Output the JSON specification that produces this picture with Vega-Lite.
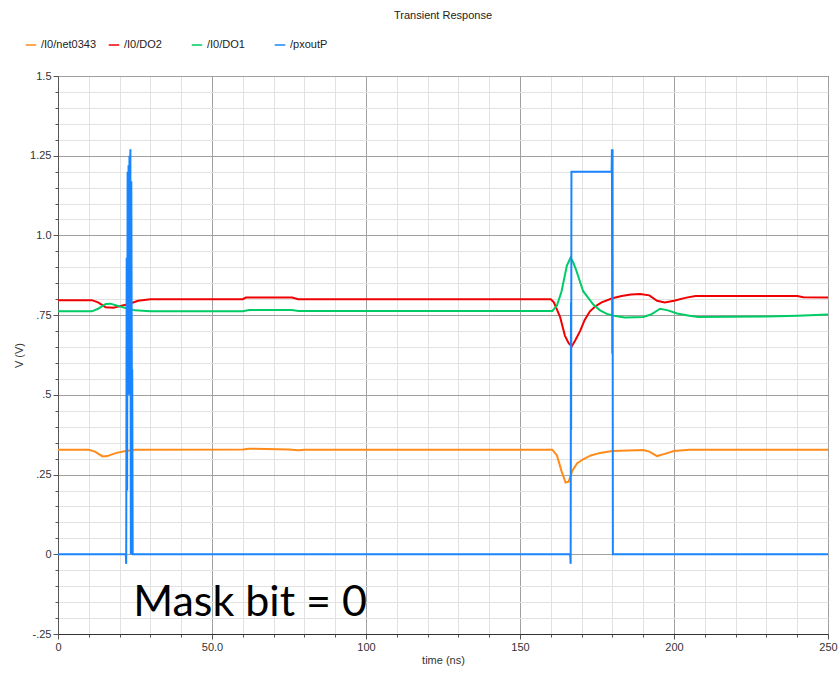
{
  "$schema": "https://vega.github.io/schema/vega-lite/v6.json",
  "width": 770,
  "height": 558,
  "autosize": "none",
  "padding": {"left": 58, "top": 76, "right": 10, "bottom": 39},
  "background": "white",
  "title": {"text": "Transient Response", "fontSize": 11, "fontWeight": "normal", "font": "Liberation Sans", "color": "#222", "anchor": "middle", "offset": 18},
  "config": {
    "view": {"stroke": "#222", "strokeWidth": 1},
    "axis": {"labelFont": "Liberation Sans", "titleFont": "Liberation Sans", "labelFontSize": 11, "titleFontSize": 11, "titleFontWeight": "normal", "labelColor": "#333", "titleColor": "#333", "domainColor": "#555", "tickColor": "#555", "labelOverlap": false}
  },
  "datasets": {
    "series": [
      {"s": "/I0/net0343", "t": 0, "v": 0.328}, {"s": "/I0/net0343", "t": 10, "v": 0.328}, {"s": "/I0/net0343", "t": 12, "v": 0.322}, {"s": "/I0/net0343", "t": 14.5, "v": 0.307}, {"s": "/I0/net0343", "t": 16, "v": 0.308}, {"s": "/I0/net0343", "t": 19, "v": 0.318}, {"s": "/I0/net0343", "t": 22, "v": 0.324}, {"s": "/I0/net0343", "t": 25, "v": 0.328}, {"s": "/I0/net0343", "t": 60, "v": 0.329}, {"s": "/I0/net0343", "t": 62, "v": 0.331}, {"s": "/I0/net0343", "t": 75, "v": 0.329}, {"s": "/I0/net0343", "t": 78, "v": 0.326}, {"s": "/I0/net0343", "t": 80, "v": 0.328}, {"s": "/I0/net0343", "t": 160.5, "v": 0.328}, {"s": "/I0/net0343", "t": 162, "v": 0.31}, {"s": "/I0/net0343", "t": 163.5, "v": 0.26}, {"s": "/I0/net0343", "t": 164.8, "v": 0.225}, {"s": "/I0/net0343", "t": 165.8, "v": 0.228}, {"s": "/I0/net0343", "t": 167, "v": 0.262}, {"s": "/I0/net0343", "t": 168.5, "v": 0.285}, {"s": "/I0/net0343", "t": 170.5, "v": 0.298}, {"s": "/I0/net0343", "t": 173, "v": 0.31}, {"s": "/I0/net0343", "t": 176, "v": 0.318}, {"s": "/I0/net0343", "t": 180, "v": 0.324}, {"s": "/I0/net0343", "t": 190, "v": 0.327}, {"s": "/I0/net0343", "t": 192, "v": 0.322}, {"s": "/I0/net0343", "t": 194.5, "v": 0.308}, {"s": "/I0/net0343", "t": 197, "v": 0.315}, {"s": "/I0/net0343", "t": 200, "v": 0.324}, {"s": "/I0/net0343", "t": 205, "v": 0.328}, {"s": "/I0/net0343", "t": 250, "v": 0.328},
      {"s": "/I0/DO2", "t": 0, "v": 0.797}, {"s": "/I0/DO2", "t": 11, "v": 0.797}, {"s": "/I0/DO2", "t": 13, "v": 0.79}, {"s": "/I0/DO2", "t": 15.5, "v": 0.775}, {"s": "/I0/DO2", "t": 18, "v": 0.773}, {"s": "/I0/DO2", "t": 20, "v": 0.778}, {"s": "/I0/DO2", "t": 23, "v": 0.785}, {"s": "/I0/DO2", "t": 26, "v": 0.795}, {"s": "/I0/DO2", "t": 30, "v": 0.8}, {"s": "/I0/DO2", "t": 60, "v": 0.8}, {"s": "/I0/DO2", "t": 61, "v": 0.805}, {"s": "/I0/DO2", "t": 76, "v": 0.805}, {"s": "/I0/DO2", "t": 78, "v": 0.8}, {"s": "/I0/DO2", "t": 160, "v": 0.8}, {"s": "/I0/DO2", "t": 161, "v": 0.79}, {"s": "/I0/DO2", "t": 163, "v": 0.745}, {"s": "/I0/DO2", "t": 164.6, "v": 0.685}, {"s": "/I0/DO2", "t": 165.8, "v": 0.662}, {"s": "/I0/DO2", "t": 166.8, "v": 0.652}, {"s": "/I0/DO2", "t": 168, "v": 0.672}, {"s": "/I0/DO2", "t": 169.5, "v": 0.7}, {"s": "/I0/DO2", "t": 171, "v": 0.735}, {"s": "/I0/DO2", "t": 172.7, "v": 0.762}, {"s": "/I0/DO2", "t": 174.5, "v": 0.778}, {"s": "/I0/DO2", "t": 176.5, "v": 0.79}, {"s": "/I0/DO2", "t": 180, "v": 0.803}, {"s": "/I0/DO2", "t": 183, "v": 0.81}, {"s": "/I0/DO2", "t": 186, "v": 0.815}, {"s": "/I0/DO2", "t": 189, "v": 0.816}, {"s": "/I0/DO2", "t": 192, "v": 0.812}, {"s": "/I0/DO2", "t": 194.5, "v": 0.795}, {"s": "/I0/DO2", "t": 197, "v": 0.79}, {"s": "/I0/DO2", "t": 200, "v": 0.795}, {"s": "/I0/DO2", "t": 204, "v": 0.805}, {"s": "/I0/DO2", "t": 207, "v": 0.81}, {"s": "/I0/DO2", "t": 240, "v": 0.81}, {"s": "/I0/DO2", "t": 242, "v": 0.806}, {"s": "/I0/DO2", "t": 250, "v": 0.805},
      {"s": "/I0/DO1", "t": 0, "v": 0.762}, {"s": "/I0/DO1", "t": 11, "v": 0.762}, {"s": "/I0/DO1", "t": 13, "v": 0.77}, {"s": "/I0/DO1", "t": 15.5, "v": 0.785}, {"s": "/I0/DO1", "t": 17, "v": 0.786}, {"s": "/I0/DO1", "t": 19, "v": 0.78}, {"s": "/I0/DO1", "t": 22, "v": 0.772}, {"s": "/I0/DO1", "t": 25, "v": 0.765}, {"s": "/I0/DO1", "t": 30, "v": 0.762}, {"s": "/I0/DO1", "t": 60, "v": 0.762}, {"s": "/I0/DO1", "t": 62, "v": 0.766}, {"s": "/I0/DO1", "t": 76, "v": 0.766}, {"s": "/I0/DO1", "t": 78, "v": 0.763}, {"s": "/I0/DO1", "t": 160.5, "v": 0.763}, {"s": "/I0/DO1", "t": 162, "v": 0.78}, {"s": "/I0/DO1", "t": 163.5, "v": 0.825}, {"s": "/I0/DO1", "t": 165.2, "v": 0.905}, {"s": "/I0/DO1", "t": 166.4, "v": 0.93}, {"s": "/I0/DO1", "t": 167.3, "v": 0.915}, {"s": "/I0/DO1", "t": 168.4, "v": 0.887}, {"s": "/I0/DO1", "t": 170.5, "v": 0.825}, {"s": "/I0/DO1", "t": 173.8, "v": 0.783}, {"s": "/I0/DO1", "t": 176, "v": 0.765}, {"s": "/I0/DO1", "t": 178.2, "v": 0.754}, {"s": "/I0/DO1", "t": 181, "v": 0.747}, {"s": "/I0/DO1", "t": 184, "v": 0.743}, {"s": "/I0/DO1", "t": 190, "v": 0.744}, {"s": "/I0/DO1", "t": 192.5, "v": 0.752}, {"s": "/I0/DO1", "t": 195.5, "v": 0.77}, {"s": "/I0/DO1", "t": 198, "v": 0.765}, {"s": "/I0/DO1", "t": 201, "v": 0.755}, {"s": "/I0/DO1", "t": 205, "v": 0.748}, {"s": "/I0/DO1", "t": 208, "v": 0.744}, {"s": "/I0/DO1", "t": 230, "v": 0.746}, {"s": "/I0/DO1", "t": 240, "v": 0.748}, {"s": "/I0/DO1", "t": 250, "v": 0.752},
      {"s": "/pxoutP", "t": 0, "v": 0}, {"s": "/pxoutP", "t": 22.0, "v": 0}, {"s": "/pxoutP", "t": 22.15, "v": -0.03}, {"s": "/pxoutP", "t": 22.3, "v": 0.93}, {"s": "/pxoutP", "t": 22.45, "v": 0.2}, {"s": "/pxoutP", "t": 22.6, "v": 1.2}, {"s": "/pxoutP", "t": 22.75, "v": 0.6}, {"s": "/pxoutP", "t": 22.9, "v": 1.22}, {"s": "/pxoutP", "t": 23.05, "v": 0.5}, {"s": "/pxoutP", "t": 23.2, "v": 1.25}, {"s": "/pxoutP", "t": 23.35, "v": 0.7}, {"s": "/pxoutP", "t": 23.5, "v": 1.27}, {"s": "/pxoutP", "t": 23.65, "v": 0.0}, {"s": "/pxoutP", "t": 23.8, "v": 1.17}, {"s": "/pxoutP", "t": 24.0, "v": 0.45}, {"s": "/pxoutP", "t": 24.1, "v": 0.58}, {"s": "/pxoutP", "t": 24.25, "v": 0.0}, {"s": "/pxoutP", "t": 166.3, "v": 0}, {"s": "/pxoutP", "t": 166.45, "v": -0.03}, {"s": "/pxoutP", "t": 166.55, "v": 0.79}, {"s": "/pxoutP", "t": 166.6, "v": 0.39}, {"s": "/pxoutP", "t": 166.7, "v": 1.2}, {"s": "/pxoutP", "t": 179.75, "v": 1.2}, {"s": "/pxoutP", "t": 179.85, "v": 1.27}, {"s": "/pxoutP", "t": 179.95, "v": 0.63}, {"s": "/pxoutP", "t": 180.05, "v": 1.27}, {"s": "/pxoutP", "t": 180.15, "v": 0}, {"s": "/pxoutP", "t": 250, "v": 0}
    ],
    "note": [{"t": 24.4, "v": -0.194, "label": "Mask bit = 0"}]
  },
  "layer": [
    {
      "data": {"name": "series"},
      "mark": {"type": "line", "strokeWidth": 2, "clip": true},
      "encoding": {
        "x": {"field": "t", "type": "quantitative", "title": "time (ns)",
          "scale": {"domain": [0, 250], "nice": false, "zero": false},
          "axis": {"values": [0,10,20,30,40,50,60,70,80,90,100,110,120,130,140,150,160,170,180,190,200,210,220,230,240,250],
            "tickCount": 60,
            "labelExpr": "datum.value % 50 === 0 ? (datum.value === 50 ? '50.0' : '' + datum.value) : ''",
            "gridColor": {"condition": {"test": "datum.value % 50 === 0", "value": "#a0a0a0"}, "value": "#e2e2e2"},
            "tickSize": {"condition": {"test": "datum.value % 50 === 0", "value": 5}, "value": 3},
            "labelPadding": 2, "titlePadding": 2, "domainColor": "#333", "labelFlush": false, "labelOverlap": false}},
        "y": {"field": "v", "type": "quantitative", "title": "V (V)",
          "scale": {"domain": [-0.25, 1.5], "nice": false, "zero": false},
          "axis": {"values": [-0.25,-0.2,-0.15,-0.1,-0.05,0,0.05,0.1,0.15,0.2,0.25,0.3,0.35,0.4,0.45,0.5,0.55,0.6,0.65,0.7,0.75,0.8,0.85,0.9,0.95,1.0,1.05,1.1,1.15,1.2,1.25,1.3,1.35,1.4,1.45,1.5],
            "tickCount": 80,
            "labelExpr": "abs(datum.value*4 - round(datum.value*4)) < 1e-6 ? (datum.value < -0.1 ? '-.25' : abs(datum.value) < 1e-9 ? '0' : abs(datum.value - 1) < 1e-9 ? '1.0' : replace(format(datum.value, '.3~f'), '0.', '.')) : ''",
            "gridColor": {"condition": {"test": "abs(datum.value*4 - round(datum.value*4)) < 1e-6", "value": "#a0a0a0"}, "value": "#e2e2e2"},
            "tickSize": {"condition": {"test": "abs(datum.value*4 - round(datum.value*4)) < 1e-6", "value": 5}, "value": 3},
            "labelPadding": 2, "titlePadding": 5, "labelFlush": false, "labelOverlap": false}},
        "color": {"field": "s", "type": "nominal",
          "scale": {"domain": ["/I0/net0343", "/I0/DO2", "/I0/DO1", "/pxoutP"], "range": ["#ff8c1a", "#f00000", "#00cc66", "#1a85ff"]},
          "legend": {"title": null, "orient": "none", "legendX": -33, "legendY": -37, "direction": "horizontal", "columns": 4, "gridAlign": "all", "columnPadding": 8, "symbolType": "stroke", "symbolSize": 110, "symbolStrokeWidth": 1.5, "labelFont": "Liberation Sans", "labelFontSize": 11, "labelColor": "#222", "labelOffset": 4}}
      }
    },
    {
      "data": {"name": "note"},
      "mark": {"type": "text", "align": "left", "baseline": "alphabetic", "font": "Lato", "fontSize": 43, "color": "#000"},
      "encoding": {
        "x": {"field": "t", "type": "quantitative"},
        "y": {"field": "v", "type": "quantitative"},
        "text": {"field": "label"}
      }
    }
  ]
}
